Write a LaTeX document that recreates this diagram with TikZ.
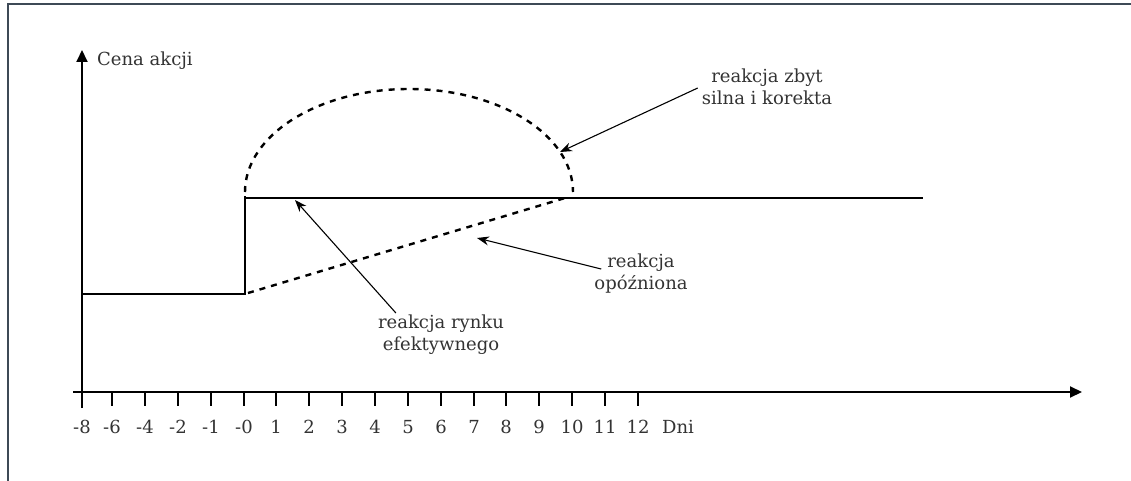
\documentclass[tikz,border=0pt]{standalone}
\usepackage{fontspec}
\setmainfont{DejaVu Serif}
\usetikzlibrary{arrows.meta,positioning,calc}

\definecolor{framegray}{HTML}{3E4A56}
\definecolor{textgray}{HTML}{333333}

\begin{document}
\begin{tikzpicture}[x=1pt,y=-1pt,>=Stealth,
  axis/.style={line width=2pt},
  price/.style={line width=2.4pt},
  lag/.style={line width=2.4pt,dash pattern=on 6pt off 6pt},
  pointer/.style={line width=1.1pt,-{Stealth[length=12pt,width=9pt]}},
  note/.style={text=textgray,font=\fontsize{18}{22}\selectfont,align=center,inner sep=2pt},
  ticklab/.style={text=textgray,font=\fontsize{18}{22}\selectfont,anchor=base,inner sep=0pt}]
\useasboundingbox (0,0) rectangle (1131,481);
\draw[line width=2pt,framegray] (8,481) -- (8,4) -- (1131,4);

% axes
\coordinate (ybot) at (82,408);
\coordinate (ytop) at (82,50);
\coordinate (xleft) at (73,392);
\coordinate (xright) at (1082,392);
\draw[axis,-{Triangle[length=12pt,width=11pt]}] (ybot) -- (ytop);
\draw[axis,-{Triangle[length=12pt,width=11pt]}] (xleft) -- (xright);
\node[ticklab,anchor=base west] (ylab) at (97,66) {Cena akcji};

\foreach \x/\l in {82/-8,112/-6,145/-4,178/-2,211/-1,244/-0,276/1,309/2,342/3,375/4,
                   408/5,441/6,474/7,506/8,539/9,572/10,605/11,638/12}
  \draw[axis] (\x,392) -- (\x,406) node[ticklab] at (\x,433) {\l};
\node[ticklab] (xlab) at (678,433) {Dni};

% price paths
\coordinate (p0) at (82,294);
\coordinate (p1) at (245,294);
\coordinate (p2) at (245,196);
\coordinate (p3) at (245,198);
\coordinate (p4) at (923,198);
\draw[price] (p0) -- (p1) -- (p2);
\draw[price] (p3) -- (p4);
\coordinate (l0) at (248,293);
\coordinate (l1) at (565,198);
\draw[lag] (l0) -- (l1);
\coordinate (o0) at (245,192);
\draw[lag] (o0) arc[start angle=180,end angle=360,x radius=164,y radius=103];

% notes
\node[note] (zbyt) at (767,87) {reakcja zbyt\\silna i korekta};
\node[note] (opozn) at (641,274) {reakcja\\opóźniona};
\node[note] (rynek) at (441,335) {reakcja rynku\\efektywnego};
\coordinate (tipz) at (560,152);
\coordinate (tipo) at (477,238);
\coordinate (tipr) at (295,200);
\draw[pointer] ($(zbyt.west)+(-2,1)$) -- (tipz);
\draw[pointer] ($(opozn.west)+(9,-5)$) -- (tipo);
\draw[pointer] ($(rynek.north west)+(20,0)$) -- (tipr);
\end{tikzpicture}
\end{document}
